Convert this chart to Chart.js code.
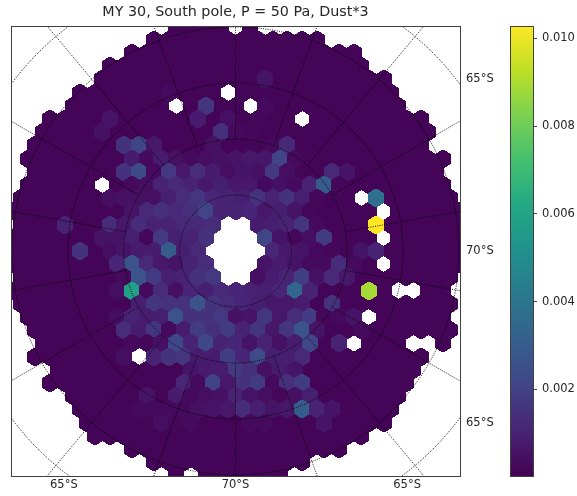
<!DOCTYPE html>
<html>
<head>
<meta charset="utf-8">
<style>
html,body{margin:0;padding:0;background:#fff;overflow:hidden}
canvas{filter:blur(0.45px)}
#main{position:absolute;left:0;top:0}
#bar{position:absolute;left:505px;top:0}
</style>
<script src="https://cdn.jsdelivr.net/npm/chart.js@4"></script>
</head>
<body>
<canvas id="main" width="505" height="496"></canvas>
<canvas id="bar" width="72" height="496"></canvas>
<script>
const titleText = 'MY 30, South pole, P = 50 Pa, Dust*3';
const xTickValues = [-172, 0, 172];
const xTickLabels = ['65°S', '70°S', '65°S'];
const yTickValues = [172, 0, -172];
const yTickLabels = ['65°S', '70°S', '65°S'];
const barTickValues = [0.002, 0.004, 0.006, 0.008, 0.010];
const dustMin = 0.00003;
const dustMax = 0.01028;
const dustUnit = 0.0001;
const backgroundDust = 1.2;

// hex rows from the top (-17) to the bottom (+17); columns counted in half cells
const rowNumbers = [-17,-16,-15,-14,-13,-12,-11,-10,-9,-8,-7,-6,-5,-4,-3,-2,-1,0,1,2,3,4,5,6,7,8,9,10,11,12,13,14,15,16,17];
const rowFirstCol = [-8,-11,-14,-17,-18,-21,-22,-25,-26,-27,-28,-27,-28,-29,-30,-29,-30,-31,-30,-29,-30,-29,-28,-27,-26,-27,-24,-25,-22,-21,-20,-19,-14,-11,-8];
const rowLastCol = [2,11,16,17,20,21,22,25,26,25,28,27,28,29,30,31,30,31,30,29,28,29,28,29,28,25,24,23,22,21,20,17,14,9,6];
const holeRows = [-17,-12,-11,-11,-10,-5,-4,-3,-2,-2,-1,-1,-1,-1,0,0,0,0,1,1,1,1,2,2,3,3,5,7,7,7,8,17];
const holeCols = [0,-1,-8,2,9,-18,17,20,-1,1,-2,0,2,20,-3,-1,1,3,-2,0,2,20,-1,1,22,24,18,16,24,26,-13,-6];

// column, dust (in dustUnit) pairs for every cell above the background level
const rowM13 = [4,6];
const rowM12 = [-9,3];
const rowM11 = [-4,16, 4,3];
const rowM10 = [-17,6, -5,8, -1,5, 3,2];
const rowM9 = [-18,5, -2,14, 0,3, 2,2];
const rowM8 = [-15,15, -13,21, -11,7, -3,5, 5,3, 7,12];
const rowM7 = [-14,8, -12,3, -10,8, -8,5, -6,3, -4,4, -2,5, 0,6, 2,7, 4,7, 6,21, 8,3];
const rowM6 = [-15,15, -13,24, -11,3, -9,17, -7,7, -5,13, -3,8, -1,4, 1,6, 3,5, 5,17, 7,4, 13,12, 15,6];
const rowM5 = [-14,3, -12,4, -10,10, -8,12, -6,10, -4,7, -2,9, 0,7, 2,7, 4,3, 6,5, 8,3, 10,10, 12,30, 14,2];
const rowM4 = [-17,4, -15,5, -13,5, -11,5, -9,9, -7,13, -5,16, -3,11, -1,10, 1,9, 3,15, 5,10, 7,15, 9,9, 11,2, 19,38];
const rowM3 = [-14,6, -12,12, -10,14, -8,12, -6,14, -4,21, -2,10, 0,10, 2,11, 4,7, 6,9, 8,6, 10,2];
const rowM2 = [-23,10, -17,13, -15,7, -13,13, -11,10, -9,10, -7,12, -5,12, -3,13, 3,8, 5,9, 7,10, 9,16, 11,3, 19,103];
const rowM1 = [-18,6, -16,6, -14,9, -12,2, -10,17, -8,9, -6,10, -4,15, 4,21, 6,6, 8,2, 10,4, 12,18];
const rowP0 = [-21,15, -17,4, -15,6, -13,8, -11,8, -9,30, -7,9, -5,12, 5,11, 7,7, 9,6, 11,3, 13,2, 17,6, 19,10];
const rowP1 = [-16,11, -14,27, -12,12, -10,7, -8,6, -6,10, -4,13, 4,6, 6,8, 8,6, 10,3, 12,3, 14,13, 16,3];
const rowP2 = [-15,3, -13,27, -11,18, -9,9, -7,10, -5,15, -3,17, 3,4, 5,8, 7,10, 9,19, 11,5, 13,12, 15,7];
const rowP3 = [-16,4, -14,58, -12,3, -10,13, -8,5, -6,11, -4,9, -2,12, 0,11, 2,10, 4,9, 6,11, 8,33, 10,10, 18,89];
const rowP4 = [-13,9, -11,16, -9,15, -7,15, -5,26, -3,15, -1,13, 1,11, 3,9, 5,7, 7,7, 9,8, 13,15];
const rowP5 = [-16,4, -14,10, -12,8, -10,9, -8,26, -6,15, -4,15, -2,17, 0,5, 2,6, 4,16, 6,7, 8,13, 10,18, 12,2, 14,3, 16,6];
const rowP6 = [-15,13, -13,8, -11,16, -9,3, -7,8, -5,18, -3,14, -1,18, 1,10, 3,16, 5,7, 7,16, 9,27, 11,6, 17,3];
const rowP7 = [-14,3, -12,2, -10,5, -8,22, -6,10, -4,22, -2,10, 0,11, 2,6, 4,10, 6,5, 8,8, 10,22, 14,10];
const rowP8 = [-15,4, -11,10, -9,15, -7,16, -5,8, -3,8, -1,19, 1,11, 3,24, 5,9, 7,9, 9,12];
const rowP9 = [-6,6, -4,8, -2,8, 0,17, 2,14, 4,5, 6,8, 8,6];
const rowP10 = [-7,11, -5,3, -3,20, -1,7, 1,15, 3,18, 5,3, 7,14, 9,18];
const rowP11 = [-12,6, -8,8, -6,3, -4,4, -2,5, 0,10, 2,6, 4,4, 6,2, 8,5, 10,9];
const rowP12 = [-13,3, -11,3, -9,3, -7,3, -5,5, -3,6, -1,7, 1,13, 3,9, 5,6, 7,7, 9,30, 11,10, 13,6];
const rowP13 = [-10,4, -8,2, -6,3, 2,3, 4,3, 12,6];
const rowReadings = {'-13':rowM13,'-12':rowM12,'-11':rowM11,'-10':rowM10,'-9':rowM9,'-8':rowM8,'-7':rowM7,'-6':rowM6,'-5':rowM5,'-4':rowM4,'-3':rowM3,'-2':rowM2,'-1':rowM1,'0':rowP0,'1':rowP1,'2':rowP2,'3':rowP3,'4':rowP4,'5':rowP5,'6':rowP6,'7':rowP7,'8':rowP8,'9':rowP9,'10':rowP10,'11':rowP11,'12':rowP12,'13':rowP13};

// map graticule
const parallelRadii = [56, 112, 168, 224, 280];
const meridianAngles = [0,20,40,60,80,100,120,140,160,180,200,220,240,260,280,300,320,340];
const meridianInner = 112;
const meridianOuter = 420;

const viridisStops = ['#440154','#482475','#414487','#355f8d','#2a788e','#21918c','#22a884','#44bf70','#7ad151','#bddf26','#fde725'];

const colStep = 7.425, rowStep = 13.2, hexW = 14.85, hexH = 17.6;

function hexRgb(h){return [1,3,5].map(p=>parseInt(h.substr(p,2),16));}
function viridisRgb(t){
  t=Math.max(0,Math.min(1,t));
  const f=t*(viridisStops.length-1), a=Math.min(Math.floor(f),viridisStops.length-2), w=f-a;
  const c0=hexRgb(viridisStops[a]), c1=hexRgb(viridisStops[a+1]);
  return c0.map((c,i)=>Math.round(c+(c1[i]-c)*w));
}
const hexCache = {};
function hexImage(v){
  const rgb = viridisRgb((v-dustMin)/(dustMax-dustMin)), key = rgb.join(',');
  if(hexCache[key]) return hexCache[key];
  const c=document.createElement('canvas'); c.width=22; c.height=26;
  const g=c.getContext('2d',{willReadFrequently:true}), cx=11, cy=13, hw=hexW/2, hh=hexH/2;
  g.fillStyle='rgb('+key+')'; g.strokeStyle='rgb('+key+')'; g.lineWidth=1.1; g.lineJoin='miter';
  g.beginPath();
  g.moveTo(cx,cy-hh); g.lineTo(cx+hw,cy-hh/2); g.lineTo(cx+hw,cy+hh/2);
  g.lineTo(cx,cy+hh); g.lineTo(cx-hw,cy+hh/2); g.lineTo(cx-hw,cy-hh/2);
  g.closePath(); g.fill(); g.stroke();
  // hard-edged tile: no partly transparent pixels, so neighbouring tiles leave no seam
  const im=g.getImageData(0,0,c.width,c.height), d=im.data;
  for(let p=0;p<d.length;p+=4){
    const on=d[p+3]>=90;
    d[p]=rgb[0]; d[p+1]=rgb[1]; d[p+2]=rgb[2]; d[p+3]=on?255:0;
  }
  g.putImageData(im,0,0);
  hexCache[key]=c; return c;
}

const holes = new Set(holeRows.map((r,i)=>r+':'+holeCols[i]));
const bright=[], cells=[];
rowNumbers.forEach((k,ri)=>{
  const read={}, pairs=rowReadings[k]||[];
  for(let p=0;p<pairs.length;p+=2) read[pairs[p]]=pairs[p+1];
  for(let i=rowFirstCol[ri];i<=rowLastCol[ri];i+=2){
    if(holes.has(k+':'+i)) continue;
    const u=(i in read)?read[i]:backgroundDust;
    (u>backgroundDust?bright:cells).push({x:i*colStep,y:-k*rowStep,v:u*dustUnit});
  }
});
const gridStyle={type:'scatter',showLine:true,pointRadius:0,borderColor:'rgba(0,0,0,0.9)',borderWidth:1,borderDash:[1,1.3],clip:0,order:0,fill:false,tension:0};
const datasets=[];
parallelRadii.forEach(r=>{
  const d=[];
  for(let a=0;a<=360;a+=1){d.push({x:r*Math.sin(a*Math.PI/180),y:r*Math.cos(a*Math.PI/180)});}
  datasets.push(Object.assign({data:d},gridStyle));
});
meridianAngles.forEach(a=>{
  const s=Math.sin(a*Math.PI/180), c=Math.cos(a*Math.PI/180);
  datasets.push(Object.assign({data:[{x:meridianInner*s,y:meridianInner*c},{x:meridianOuter*s,y:meridianOuter*c}]},gridStyle));
});
datasets.push({type:'scatter',data:cells.concat(bright),showLine:false,clip:0,order:1,
  pointRadius:11,pointHoverRadius:11,pointBorderWidth:0,
  pointStyle:ctx=>hexImage(ctx.raw.v)});

const FONT="'DejaVu Sans'";
const INK='#262626', FRAME='#404040';
const frame={display:true,color:FRAME,width:1,z:1};
const noGrid={display:false,drawTicks:false,tickLength:0};
function sized(prop,val){return s=>{s[prop]=val;};}
const crispTiles={id:'crispTiles',beforeDatasetsDraw(chart){chart.ctx.imageSmoothingEnabled=false;}};

new Chart(document.getElementById('main'),{
  type:'scatter',
  data:{datasets},
  plugins:[crispTiles],
  options:{
    responsive:false,animation:false,events:[],
    layout:{padding:{left:10,top:0,right:0,bottom:0}},
    plugins:{legend:{display:false},tooltip:{enabled:false},title:{display:false}},
    scales:{
      x:{type:'linear',position:'bottom',min:-225,max:225,grid:noGrid,border:frame,
        afterFit:sized('height',20),
        afterBuildTicks:s=>{s.ticks=xTickValues.map(v=>({value:v}));},
        ticks:{color:INK,font:{family:FONT,size:11.5},padding:2,maxRotation:0,autoSkip:false,
          callback:v=>xTickLabels[xTickValues.indexOf(v)]}},
      y:{type:'linear',position:'right',min:-225,max:225,grid:noGrid,border:frame,
        afterFit:sized('width',45),
        afterBuildTicks:s=>{s.ticks=yTickValues.map(v=>({value:v}));},
        ticks:{color:INK,font:{family:FONT,size:11.5},padding:6,autoSkip:false,
          callback:v=>yTickLabels[yTickValues.indexOf(v)]}},
      xTop:{type:'linear',axis:'x',position:'top',min:-225,max:225,grid:noGrid,border:frame,
        afterFit:sized('height',26),ticks:{display:false},
        title:{display:true,text:titleText,color:INK,font:{family:FONT,size:14.3},padding:{top:3.5,bottom:0}}},
      yLeft:{type:'linear',axis:'y',position:'left',min:-225,max:225,grid:noGrid,border:frame,
        afterFit:sized('width',0),ticks:{display:false}}
    }
  }
});

new Chart(document.getElementById('bar'),{
  type:'bar',
  data:{labels:['dust'],datasets:[{data:[[dustMin,dustMax]],barPercentage:1,categoryPercentage:1,
    backgroundColor:ctx=>{
      const a=ctx.chart.chartArea; if(!a) return viridisStops[0];
      const g=ctx.chart.ctx.createLinearGradient(0,a.bottom,0,a.top);
      viridisStops.forEach((c,i)=>g.addColorStop(i/(viridisStops.length-1),c));
      return g;
    }}]},
  options:{
    responsive:false,animation:false,events:[],
    layout:{padding:{left:5,top:0,right:0,bottom:0}},
    plugins:{legend:{display:false},tooltip:{enabled:false}},
    scales:{
      x:{type:'category',position:'bottom',grid:noGrid,border:frame,afterFit:sized('height',20),ticks:{display:false}},
      y:{type:'linear',position:'right',min:dustMin,max:dustMax,
        grid:{display:true,drawOnChartArea:false,drawTicks:true,tickLength:4,tickColor:FRAME,tickWidth:1},
        border:frame,afterFit:sized('width',44),
        afterBuildTicks:s=>{s.ticks=barTickValues.map(v=>({value:v}));},
        ticks:{color:INK,font:{family:FONT,size:11.5},padding:5,autoSkip:false,callback:v=>v.toFixed(3)}},
      xTop:{type:'linear',axis:'x',position:'top',min:0,max:1,grid:noGrid,border:frame,afterFit:sized('height',26),ticks:{display:false}},
      yLeft:{type:'linear',axis:'y',position:'left',min:0,max:1,grid:noGrid,border:frame,afterFit:sized('width',0),ticks:{display:false}}
    }
  }
});
</script>
</body>
</html>
